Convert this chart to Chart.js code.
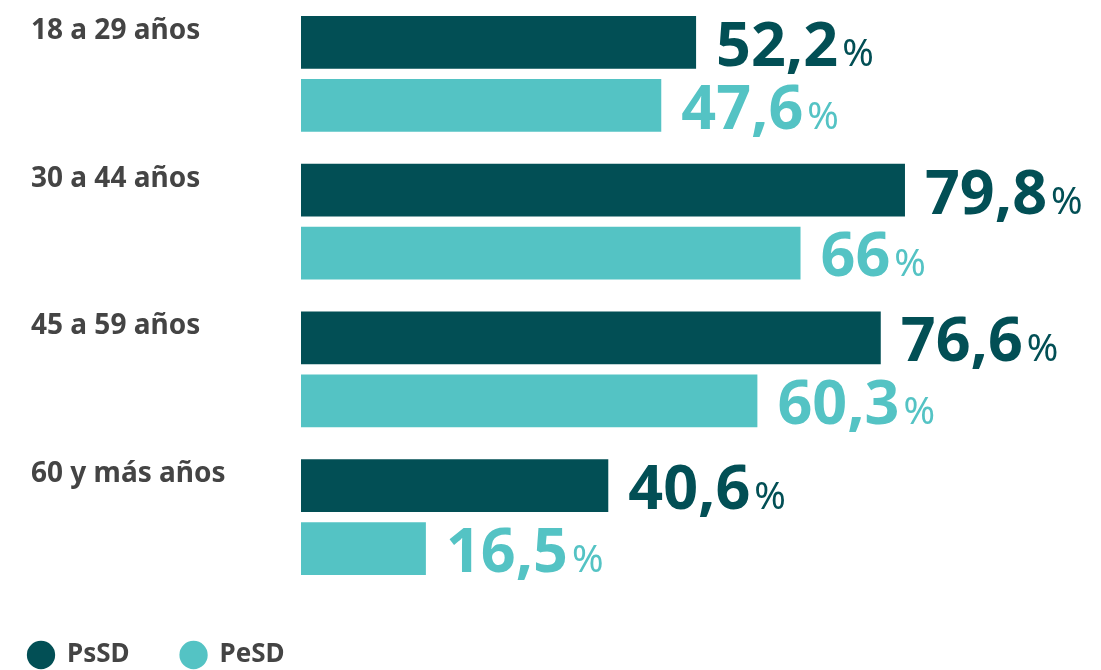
<!DOCTYPE html>
<html>
<head>
<meta charset="utf-8">
<script src="https://cdn.jsdelivr.net/npm/chart.js@4.4.1/dist/chart.umd.min.js"></script>
<style>
  html, body { margin: 0; padding: 0; background: #fff; overflow: hidden; }
  #wrap { width: 1124px; height: 678px; margin-left: -23px; }
</style>
</head>
<body>
<div id="wrap"><canvas id="chart"></canvas></div>
<script>
const ageGroups = ["18 a 29 años", "30 a 44 años", "45 a 59 años", "60 y más años"];
const psSD = [52.2, 79.8, 76.6, 40.6];
const peSD = [47.6, 66, 60.3, 16.5];

const darkTeal = "#024f55";
const lightTeal = "#54c3c4";
const labelGray = "#444444";

function fmt(v) {
  return String(v).replace(".", ",");
}

// category names above each pair of bars, left aligned
const groupLabels = {
  id: "groupLabels",
  afterDraw(chart) {
    const ctx = chart.ctx;
    const y = chart.scales.y;
    ctx.save();
    ctx.font = "bold 28px 'Noto Sans'";
    ctx.fillStyle = labelGray;
    ctx.textAlign = "left";
    ctx.textBaseline = "alphabetic";
    ageGroups.forEach((g, i) => {
      ctx.fillText(g, 54, y.getPixelForValue(i) - 35);
    });
    ctx.restore();
  }
};

// big value next to the end of each bar, with a thin % sign
const valueLabels = {
  id: "valueLabels",
  afterDatasetsDraw(chart) {
    const ctx = chart.ctx;
    ctx.save();
    ctx.textBaseline = "alphabetic";
    ctx.textAlign = "left";
    chart.data.datasets.forEach((ds, di) => {
      chart.getDatasetMeta(di).data.forEach((bar, i) => {
        const txt = fmt(ds.data[i]);
        const x = bar.x + 20;
        const base = bar.y + bar.height / 2 - 3;
        ctx.fillStyle = ds.backgroundColor;
        ctx.font = "bold 61px 'Noto Sans'";
        ctx.fillText(txt, x, base);
        const w = ctx.measureText(txt).width;
        ctx.font = "38px 'Noto Sans'";
        ctx.fillText("%", x + w + 4, base);
      });
    });
    ctx.restore();
  }
};

new Chart(document.getElementById("chart"), {
  type: "bar",
  data: {
    labels: ageGroups,
    datasets: [
      { label: "PsSD", data: psSD, backgroundColor: darkTeal },
      { label: "PeSD", data: peSD, backgroundColor: lightTeal }
    ]
  },
  options: {
    indexAxis: "y",
    responsive: true,
    maintainAspectRatio: false,
    animation: false,
    categoryPercentage: 0.85,
    barPercentage: 0.84,
    layout: { padding: 0 },
    scales: {
      x: { display: false, min: 0, max: 105.7 },
      y: {
        ticks: { display: false },
        grid: { display: false },
        border: { display: false },
        afterFit(scale) { scale.width = 324; }
      }
    },
    plugins: {
      tooltip: { enabled: false },
      legend: {
        position: "bottom",
        align: "start",
        labels: {
          usePointStyle: true,
          pointStyle: "circle",
          boxWidth: 26,
          boxHeight: 20,
          padding: 51,
          color: labelGray,
          font: { family: "'Noto Sans'", size: 26, weight: "bold" }
        }
      }
    }
  },
  plugins: [groupLabels, valueLabels]
});
</script>
</body>
</html>
